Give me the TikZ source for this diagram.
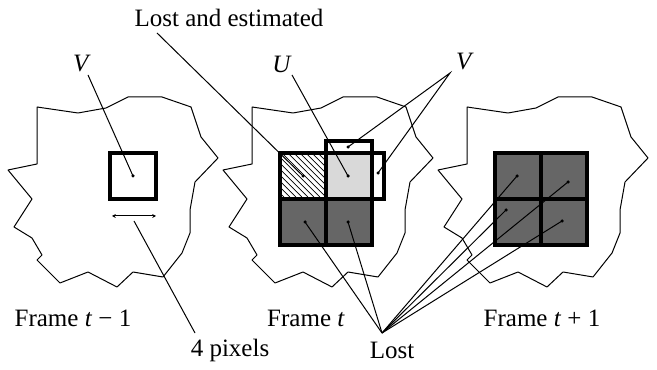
\documentclass[tikz,border=0pt]{standalone}
\usepackage{fontspec}
\setmainfont{Liberation Serif}
\usetikzlibrary{patterns.meta,arrows.meta,calc}

\begin{document}
\begin{tikzpicture}[x=0.4pt,y=-0.4pt,
    outline/.style={line width=0.4pt, line join=bevel},
    cell/.style={draw, line width=1.6pt, minimum size=18.4pt, inner sep=0pt, outer sep=0pt},
    lostcell/.style={cell, fill=black!60},
    knowncell/.style={cell, fill=black!15},
    estcell/.style={cell, pattern={Lines[angle=-45, distance=1.7pt, line width=0.3pt]}},
    pointer/.style={line width=0.4pt},
    dot/.style={circle, fill, inner sep=0pt, minimum size=1.4pt},
    lbl/.style={font=\fontsize{10}{12}\selectfont, inner sep=0pt}
]
\useasboundingbox (0,0) rectangle (657,370);
%------------------------------------------------------------------------------------------------
% frame outlines
\foreach \dx in {0,215,430} {
    \begin{scope}[shift={(\dx,0)}]
    \draw[outline] (37,107) -- (78,113) -- (106,108) -- (128,97) -- (162,97) -- (191,107)
        -- (201,137) -- (218,158) -- (195,182) -- (190,210) -- (190,233) -- (182,253)
        -- (163,277) -- (133,272) -- (117,287) -- (88,272) -- (60,283) -- (37,260)
        -- (42,255) -- (32,238) -- (14,227) -- (32,199) -- (8,170) -- (37,164) -- cycle;
    \end{scope}
}
%------------------------------------------------------------------------------------------------
% frame t-1
\node[cell] (Vprev) at (133,176) {};
\draw[pointer, {Stealth[length=1.5pt,width=1.5pt]}-{Stealth[length=1.5pt,width=1.5pt]}]
    (Vprev.south west) ++(2,17) coordinate(arrowL) -- (arrowL -| Vprev.south east) coordinate(arrowR);
\coordinate (arrowM) at ($(arrowL)!0.5!(arrowR)$);

% frame t : displaced blocks first, then the cells on top
\node[cell] (Vup) at (349,164) {};
\node[cell] (Vright) at (361,176) {};
\node[estcell] (est) at (303,176) {};
\node[knowncell] (U) at (349,176) {};
\node[lostcell] (lostA) at (303,222) {};
\node[lostcell] (lostB) at (349,222) {};

% frame t+1
\foreach \name/\x/\y in {nA/518/176, nB/564/176, nC/518/222, nD/564/222} {
    \node[lostcell] (\name) at (\x,\y) {};
}
%------------------------------------------------------------------------------------------------
% labels
\node[lbl] (lostestlbl) at (229,18) {Lost and estimated};
\node[lbl] (Vlbl) at (82,64) {\textit{V}};
\node[lbl] (Ulbl) at (282,64) {\textit{U}};
\node[lbl] (V2lbl) at (465,62) {\textit{V}};
\node[lbl] (framea) at (73,318) {Frame \textit{t} − 1};
\node[lbl] (frameb) at (306,318) {Frame \textit{t}};
\node[lbl] (framec) at (542,318) {Frame \textit{t} + 1};
\node[lbl] (pixlbl) at (230,350) {4 pixels};
\node[lbl] (lostlbl) at (392,350) {Lost};

% pointer tails
\coordinate (lostestT) at (157,33);
\coordinate (VT) at (88,75);
\coordinate (UT) at (292,75);
\coordinate (V2T) at (450,73);
\coordinate (pixT) at (195,333);
\coordinate (lostT) at (382,333);

% pointer heads
\foreach \name/\x/\y in {hVprev/133/176, hest/303/176, hU/348/176, hVup/348/147, hVright/378/173,
        hA/305/222, hB/348/222, hnA/517/176, hnB/568/182, hnC/506/210, hnD/562/221} {
    \node[dot] (\name) at (\x,\y) {};
}
\draw[pointer] (lostestT) -- (hest.center);
\draw[pointer] (VT) -- (hVprev.center);
\draw[pointer] (UT) -- (hU.center);
\draw[pointer] (hVup.center) -- (V2T) -- (hVright.center);
\draw[pointer] (pixT) -- ($(arrowM)+(0,5)$);
\foreach \h in {hA, hB, hnA, hnB, hnC, hnD} {
    \draw[pointer] (lostT) -- (\h.center);
}
\end{tikzpicture}
\end{document}
